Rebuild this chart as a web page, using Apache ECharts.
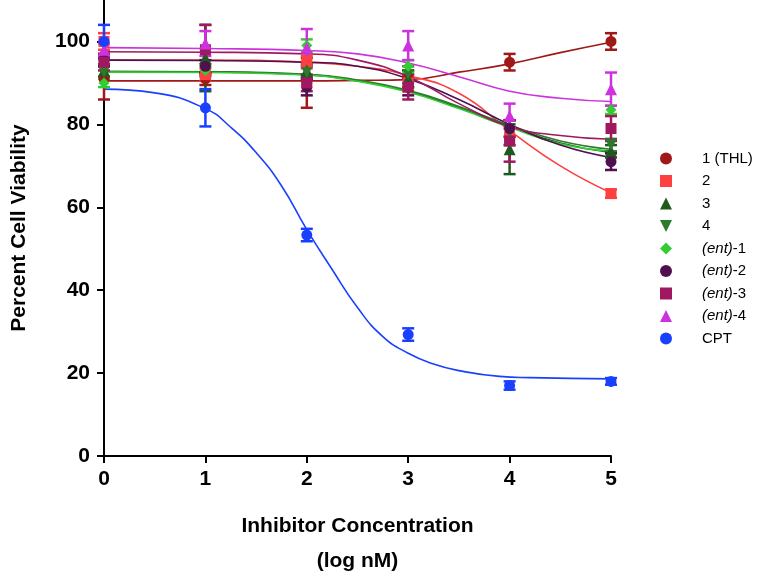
<!DOCTYPE html>
<html>
<head>
<meta charset="utf-8">
<script src="https://cdn.jsdelivr.net/npm/echarts@6/dist/echarts.min.js"></script>
<style>
html,body{margin:0;padding:0;background:#fff;overflow:hidden;}
#chart{width:779px;height:584px;}
</style>
</head>
<body>
<div id="chart"></div>
<script>
// ---- data ----
const doses = [0, 1, 2, 3, 4, 5];
const xTicks = [0, 1, 2, 3, 4, 5];
const yTicks = [0, 20, 40, 60, 80, 100];

const seriesNames = ['1 (THL)', '2', '3', '4', '(ent)-1', '(ent)-2', '(ent)-3', '(ent)-4', 'CPT'];

const thlMean  = [91, 91, 90, 91, 95, 100];
const thlErr   = [5, 1.5, 6, 2, 2, 2];
const c2Mean   = [100, 92, 95, 90, 77, 63.3];
const c2Err    = [2, 1.5, 1.5, 2, 2, 1];
const c3Mean   = [93, 96, 93, 91, 74, 73.5];
const c3Err    = [1.5, 8, 1.5, 2, 6, 1.5];
const c4Mean   = [92.5, 93, 92.5, 92, 78, 75];
const c4Err    = [1.5, 1.5, 1.5, 2, 3, 1.5];
const ent1Mean = [90, 93, 99, 94, 79, 83.5];
const ent1Err  = [1, 1, 1.5, 1.5, 2, 1];
const ent2Mean = [95.5, 94, 89, 89, 79, 71];
const ent2Err  = [1.5, 1.5, 2, 2, 2, 2];
const ent3Mean = [95, 98, 90, 89, 76, 79];
const ent3Err  = [2, 6, 2, 3, 5, 3];
const ent4Mean = [98, 99.5, 98.5, 99, 82, 88.5];
const ent4Err  = [1.5, 3, 4.5, 3.5, 3, 4];
const cptMean  = [100, 84, 53.3, 29.3, 17, 18];
const cptErr   = [4, 4.5, 1.5, 1.5, 1, 0.8];

// fitted curves
const fitX     = [0, 1, 2, 2.5, 3, 3.5, 4, 4.5, 5];
const thlFit   = [90.5, 90.5, 90.5, 90.6, 90.8, 92.6, 94.6, 97.3, 99.8];
const c2Fit    = [95.5, 95.5, 95.0, 94.0, 91.8, 87.5, 78.5, 70.0, 63.5];
const c3Fit    = [92.7, 92.6, 92.0, 90.5, 88.0, 84.0, 79.5, 75.5, 73.2];
const c4Fit    = [92.8, 92.7, 92.1, 90.7, 88.2, 84.3, 79.8, 76.0, 74.0];
const ent1Fit  = [92.6, 92.5, 91.9, 90.4, 87.8, 83.8, 79.3, 75.3, 73.6];
const ent2Fit  = [95.5, 95.4, 95.0, 94.0, 91.0, 86.0, 80.0, 75.0, 72.0];
const ent3Fit  = [97.5, 97.4, 97.0, 95.5, 91.5, 85.0, 79.5, 77.3, 76.4];
const ent4Fit  = [98.5, 98.3, 97.8, 97.0, 94.8, 91.5, 88.0, 86.3, 85.5];
const cptFitX  = [0, 0.5, 1, 1.25, 1.5, 1.75, 2, 2.25, 2.5, 2.75, 3, 3.25, 3.5, 3.9, 4.2, 5];
const cptFit   = [88.5, 87.6, 83.8, 79.3, 73.2, 65.2, 54.6, 45.0, 35.8, 28.8, 24.8, 22.2, 20.6, 19.2, 18.9, 18.6];

// ---- styling ----
const colors  = ['#a01818', '#ff4040', '#1e5a1e', '#2d7a2d', '#33cc33', '#501050', '#a01860', '#cc33dd', '#1a40ff'];
const symbols = ['circle', 'rect', 'triangle', 'path://M0,0L10,0L5,10Z', 'diamond', 'circle', 'rect', 'triangle', 'circle'];
const means = [thlMean, c2Mean, c3Mean, c4Mean, ent1Mean, ent2Mean, ent3Mean, ent4Mean, cptMean];
const errs  = [thlErr, c2Err, c3Err, c4Err, ent1Err, ent2Err, ent3Err, ent4Err, cptErr];
const fits  = [thlFit, c2Fit, c3Fit, c4Fit, ent1Fit, ent2Fit, ent3Fit, ent4Fit, cptFit];
const fitXs = [fitX, fitX, fitX, fitX, fitX, fitX, fitX, fitX, cptFitX];

const FONT = 'Arial, "Liberation Sans", sans-serif';

const series = [];
seriesNames.forEach((name, i) => {
  series.push({
    name: 'fit-' + i,
    type: 'line',
    data: fitXs[i].map((x, k) => [x, fits[i][k]]),
    smooth: true,
    showSymbol: false,
    silent: true,
    lineStyle: { color: colors[i], width: 1.6 },
    z: 1
  });
});
seriesNames.forEach((name, i) => {
  series.push({
    name: 'err-' + i,
    type: 'custom',
    silent: true,
    z: 2,
    data: doses.map((x, k) => [x, means[i][k], errs[i][k]]),
    renderItem: function (params, api) {
      const x = api.value(0), y = api.value(1), e = api.value(2);
      const top = api.coord([x, y + e]);
      const bot = api.coord([x, y - e]);
      const hw = 6;
      const st = { stroke: colors[i], lineWidth: 2.5 };
      return {
        type: 'group',
        children: [
          { type: 'line', shape: { x1: top[0], y1: top[1], x2: bot[0], y2: bot[1] }, style: st },
          { type: 'line', shape: { x1: top[0] - hw, y1: top[1], x2: top[0] + hw, y2: top[1] }, style: st },
          { type: 'line', shape: { x1: bot[0] - hw, y1: bot[1], x2: bot[0] + hw, y2: bot[1] }, style: st }
        ]
      };
    }
  });
});
seriesNames.forEach((name, i) => {
  series.push({
    name: name,
    type: 'scatter',
    symbol: symbols[i],
    symbolSize: i === 2 || i === 7 ? 12 : 11,
    itemStyle: { color: colors[i], opacity: 1 },
    data: doses.map((x, k) => [x, means[i][k]]),
    z: 3
  });
});

const chart = echarts.init(document.getElementById('chart'));
chart.setOption({
  animation: false,
  backgroundColor: '#ffffff',
  grid: { left: 104, right: 168, top: 0, bottom: 120, containLabel: false },
  legend: {
    data: seriesNames,
    orient: 'vertical',
    left: 655,
    top: 146,
    itemWidth: 12,
    itemHeight: 12,
    itemGap: 7.5,
    symbolKeepAspect: true,
    textStyle: {
      fontFamily: FONT, fontSize: 15, color: '#000',
      padding: [0, 0, 0, 25],
      rich: { i: { fontFamily: FONT, fontSize: 15, fontStyle: 'italic', color: '#000' } }
    },
    formatter: function (n) {
      if (n.indexOf('(ent)') === 0) return '{i|(ent)}-' + n.slice(6);
      return n;
    },
    selectedMode: false
  },
  xAxis: {
    type: 'value',
    min: xTicks[0],
    max: xTicks[xTicks.length - 1],
    interval: 1,
    name: 'Inhibitor Concentration\n(log nM)',
    nameLocation: 'middle',
    nameGap: 53,
    nameTextStyle: { fontFamily: FONT, fontSize: 21, fontWeight: 'bold', color: '#000', lineHeight: 35 },
    axisLine: { show: true, onZero: false, lineStyle: { color: '#000', width: 2 } },
    axisTick: { show: true, inside: false, length: 7, lineStyle: { color: '#000', width: 2 } },
    axisLabel: { margin: 13, fontFamily: FONT, fontSize: 21, fontWeight: 'bold', color: '#000' },
    splitLine: { show: false }
  },
  yAxis: {
    type: 'value',
    min: 0,
    max: 110,
    interval: 20,
    name: 'Percent Cell Viability',
    nameLocation: 'middle',
    nameGap: 74,
    nameTextStyle: { fontFamily: FONT, fontSize: 21, fontWeight: 'bold', color: '#000' },
    axisLine: { show: true, onZero: false, lineStyle: { color: '#000', width: 2 } },
    axisTick: { show: true, inside: false, length: 7, lineStyle: { color: '#000', width: 2 } },
    axisLabel: {
      margin: 14, fontFamily: FONT, fontSize: 21, fontWeight: 'bold', color: '#000',
      showMaxLabel: false,
      formatter: function (v) { return yTicks.indexOf(v) >= 0 ? String(v) : ''; }
    },
    splitLine: { show: false }
  },
  series: series
});
</script>
</body>
</html>
